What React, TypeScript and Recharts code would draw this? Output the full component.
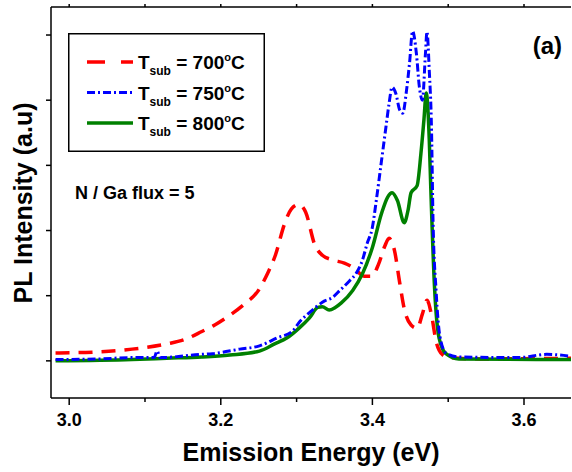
import { Legend, Line, LineChart, XAxis, YAxis } from "recharts";

const FONT = '"Liberation Sans", Arial, Helvetica, sans-serif';

// Emission energy (eV) and PL intensity (a.u.), one pair per substrate temperature.
const E_700 = [2.982, 3.041, 3.083, 3.129, 3.153, 3.175, 3.192, 3.212, 3.232, 3.249, 3.262, 3.272, 3.284, 3.293, 3.303, 3.312, 3.324, 3.334, 3.347, 3.363, 3.376, 3.389, 3.399, 3.408, 3.416, 3.422, 3.429, 3.436, 3.442, 3.451, 3.459, 3.466, 3.472, 3.478, 3.484, 3.492, 3.501, 3.541, 3.662];
const I_700 = [0.12, 0.14, 0.18, 0.26, 0.33, 0.45, 0.55, 0.7, 0.88, 1.07, 1.35, 1.62, 2.1, 2.33, 2.4, 2.28, 1.78, 1.62, 1.55, 1.5, 1.42, 1.3, 1.3, 1.48, 1.75, 1.88, 1.7, 1.2, 0.8, 0.55, 0.5, 0.72, 0.93, 0.7, 0.3, 0.1, 0.05, 0.03, 0.04];

const E_750 = [2.982, 3.041, 3.083, 3.112, 3.116, 3.12, 3.175, 3.189, 3.225, 3.251, 3.274, 3.295, 3.304, 3.317, 3.326, 3.337, 3.347, 3.357, 3.37, 3.379, 3.387, 3.393, 3.4, 3.405, 3.412, 3.418, 3.422, 3.426, 3.431, 3.436, 3.44, 3.445, 3.449, 3.453, 3.458, 3.462, 3.466, 3.47, 3.472, 3.475, 3.478, 3.48, 3.484, 3.489, 3.497, 3.514, 3.593, 3.63, 3.662];
const I_750 = [0.02, 0.03, 0.05, 0.05, 0.15, 0.05, 0.1, 0.11, 0.18, 0.23, 0.35, 0.46, 0.6, 0.74, 0.83, 0.92, 0.97, 1.08, 1.23, 1.35, 1.55, 1.8, 2.05, 2.45, 3.07, 3.6, 3.95, 4.2, 4.1, 3.85, 3.8, 4.15, 4.57, 5.06, 4.72, 4.2, 4.0, 4.72, 5.05, 4.46, 3.54, 2.15, 1.08, 0.38, 0.12, 0.06, 0.05, 0.1, 0.07];

const E_800 = [2.982, 3.083, 3.129, 3.175, 3.212, 3.251, 3.271, 3.287, 3.304, 3.317, 3.328, 3.334, 3.343, 3.351, 3.359, 3.374, 3.387, 3.4, 3.412, 3.42, 3.426, 3.433, 3.442, 3.447, 3.451, 3.459, 3.464, 3.468, 3.471, 3.475, 3.477, 3.482, 3.488, 3.497, 3.514, 3.662];
const I_800 = [0, 0.02, 0.04, 0.06, 0.09, 0.15, 0.26, 0.35, 0.51, 0.66, 0.82, 0.83, 0.78, 0.82, 0.89, 1.08, 1.34, 1.74, 2.26, 2.51, 2.58, 2.46, 2.12, 2.31, 2.58, 2.69, 3.18, 3.7, 4.11, 3.4, 2.66, 1.12, 0.35, 0.11, 0.03, 0.02];

const X_TICKS = [3.0, 3.1, 3.2, 3.3, 3.4, 3.5, 3.6];
const Y_TICKS = [0, 1, 2, 3, 4, 5];
const X_DOMAIN = [2.976, 3.662];
const Y_DOMAIN = [-0.57, 5.43];

const toPoints = (xs: number[], ys: number[]) => xs.map((e, i) => ({ e, v: ys[i] }));

// Drawn in this order: blue dash-dot ends up on top, like the original.
const SERIES = [
  { key: "700", temp: "700", color: "#ff0000", dash: "14 9", legendDash: "18 16", width: 3.5, data: toPoints(E_700, I_700) },
  { key: "800", temp: "800", color: "#008000", dash: undefined, legendDash: undefined, width: 3.5, data: toPoints(E_800, I_800) },
  { key: "750", temp: "750", color: "#0000ff", dash: "8 3 2 3", legendDash: "8 3 2 3", width: 3, data: toPoints(E_750, I_750) },
];
const LEGEND_ORDER = ["700", "750", "800"];

function EnergyTick({ x, y, payload }: { x?: number; y?: number; payload?: { value: number } }) {
  const v = payload?.value ?? 0;
  const major = Math.round(v * 10) % 2 === 0;
  return (
    <g>
      <line x1={x} x2={x} y1={y} y2={(y ?? 0) + (major ? 7 : 4)} stroke="#000" strokeWidth={1.5} />
      {major && (
        <text x={x} y={(y ?? 0) + 28} textAnchor="middle" fontFamily={FONT} fontWeight="bold" fontSize={18} fill="#000">
          {v.toFixed(1)}
        </text>
      )}
    </g>
  );
}

function TempLegend() {
  const rows = LEGEND_ORDER.map((k) => SERIES.find((s) => s.key === k)!);
  return (
    <svg width={197} height={119} style={{ display: "block" }}>
      <rect x={0.75} y={0.75} width={195.5} height={117.5} fill="#fff" stroke="#000" strokeWidth={1.5} />
      {rows.map((s, i) => {
        const cy = 29 + i * 30.5;
        return (
          <g key={s.key}>
            <line x1={19} x2={65} y1={cy} y2={cy} stroke={s.color} strokeWidth={s.width} strokeDasharray={s.legendDash} />
            <text x={70} y={cy + 7} fontFamily={FONT} fontWeight="bold" fontSize={19} fill="#000">
              T
              <tspan fontSize={12} dy={6}>sub</tspan>
              <tspan dy={-6}>{` = ${s.temp}`}</tspan>
              <tspan fontSize={11} dy={-8}>o</tspan>
              <tspan dy={8}>C</tspan>
            </text>
          </g>
        );
      })}
    </svg>
  );
}

export default function App() {
  return (
    <div style={{ position: "absolute", left: 0, top: 0, width: 572, height: 472, background: "#fff" }}>
      <LineChart width={572} height={472} margin={{ top: 0, right: 1, left: 0, bottom: 0 }}>
        <XAxis
          xAxisId="top"
          orientation="top"
          type="number"
          dataKey="e"
          domain={X_DOMAIN}
          allowDataOverflow
          ticks={X_TICKS}
          height={7}
          tickSize={3}
          tickFormatter={() => ""}
          axisLine={{ stroke: "#000", strokeWidth: 1.5 }}
          tickLine={{ stroke: "#000", strokeWidth: 1.5 }}
        />
        <XAxis
          type="number"
          dataKey="e"
          domain={X_DOMAIN}
          allowDataOverflow
          ticks={X_TICKS}
          height={74}
          tickSize={0}
          tickMargin={0}
          tickLine={false}
          tick={<EnergyTick />}
          axisLine={{ stroke: "#000", strokeWidth: 1.5 }}
        />
        <YAxis
          type="number"
          domain={Y_DOMAIN}
          allowDataOverflow
          ticks={Y_TICKS}
          width={51}
          tickSize={5}
          tickFormatter={() => ""}
          axisLine={{ stroke: "#000", strokeWidth: 1.5 }}
          tickLine={{ stroke: "#000", strokeWidth: 1.5 }}
        />
        {SERIES.map((s) => (
          <Line
            key={s.key}
            data={s.data}
            dataKey="v"
            name={s.key}
            type="monotone"
            stroke={s.color}
            strokeWidth={s.width}
            strokeDasharray={s.dash}
            dot={false}
            activeDot={false}
            isAnimationActive={false}
          />
        ))}
        <Legend
          layout="vertical"
          align="center"
          verticalAlign="middle"
          content={() => <TempLegend />}
          wrapperStyle={{ position: "absolute", left: 68, top: 33, width: 197, height: 119 }}
        />
      </LineChart>
      <svg width={572} height={472} style={{ position: "absolute", left: 0, top: 0, pointerEvents: "none" }}>
        <text x={32} y={203} transform="rotate(-90 32 203)" textAnchor="middle" fontFamily={FONT} fontWeight="bold" fontSize={25} fill="#000">
          PL Intensity (a.u)
        </text>
        <text x={311} y={461} textAnchor="middle" fontFamily={FONT} fontWeight="bold" fontSize={25} fill="#000">
          Emission Energy (eV)
        </text>
        <text x={562} y={54} textAnchor="end" fontFamily={FONT} fontWeight="bold" fontSize={24} fill="#000">
          (a)
        </text>
        <text x={75} y={199} fontFamily={FONT} fontWeight="bold" fontSize={18} fill="#000">
          N / Ga flux = 5
        </text>
      </svg>
    </div>
  );
}
